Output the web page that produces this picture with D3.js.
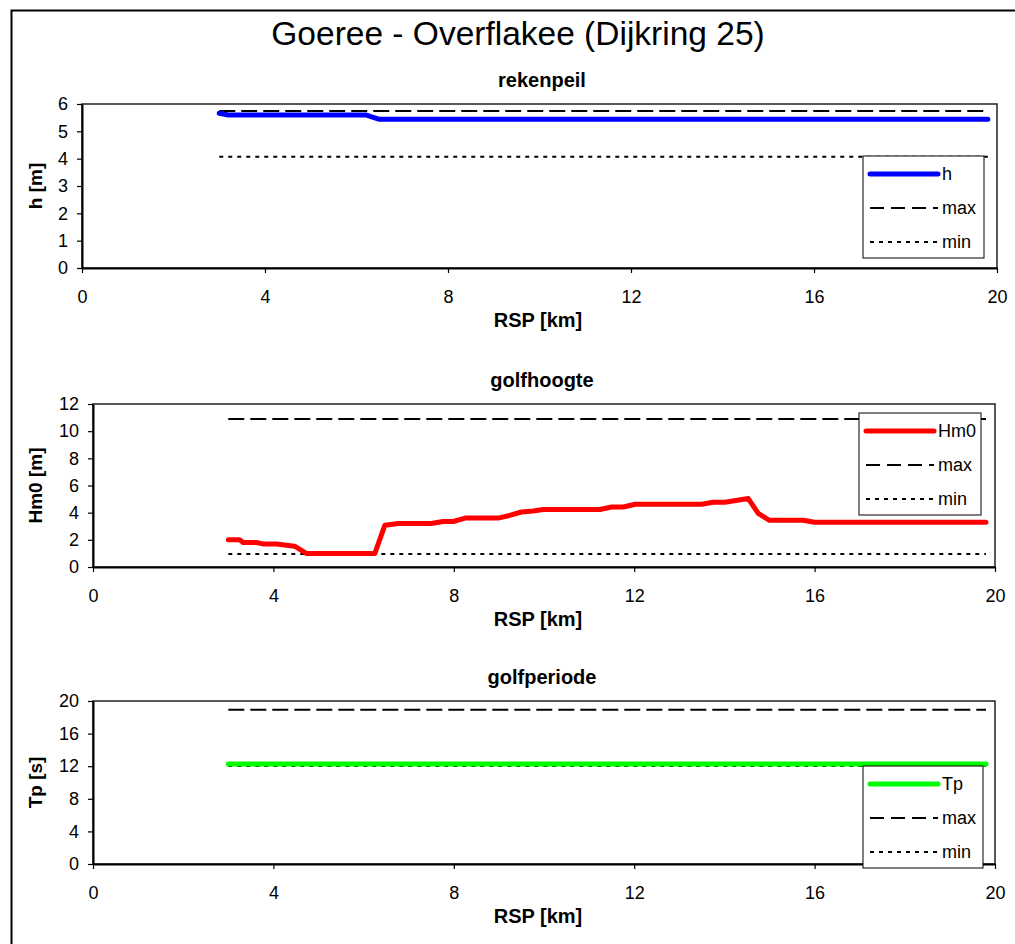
<!DOCTYPE html>
<html>
<head>
<meta charset="utf-8">
<script src="https://cdn.jsdelivr.net/npm/d3@7/dist/d3.min.js"></script>
<style>
  body { margin: 0; background: #fff; }
  svg { font-family: "Liberation Sans", Arial, sans-serif; }
</style>
</head>
<body>
<script>
// rekenpeil
var rspH = [3.0, 3.2, 6.2, 6.5, 19.8];
var hVals = [5.66, 5.6, 5.6, 5.44, 5.44];
var hMax = 5.74, hMin = 4.07;

// golfhoogte
var rspHm0 = [3.0, 3.25, 3.33, 3.62, 3.77, 4.07, 4.47, 4.73, 6.25, 6.47, 6.77, 7.5, 7.76, 7.99, 8.25, 8.98,
  9.24, 9.5, 9.76, 9.98, 11.24, 11.5, 11.76, 12.02, 13.5, 13.75, 14.01, 14.53, 14.75, 15.0, 15.75, 16.0, 19.8];
var hm0Vals = [2.0, 2.0, 1.8, 1.8, 1.7, 1.7, 1.53, 1.0, 1.0, 3.07, 3.2, 3.2, 3.35, 3.35, 3.6, 3.6,
  3.8, 4.05, 4.13, 4.23, 4.23, 4.42, 4.42, 4.62, 4.62, 4.77, 4.77, 5.04, 3.94, 3.44, 3.44, 3.3, 3.3];
var hm0Max = 10.9, hm0Min = 0.95;

// golfperiode
var rspTp = [3.0, 19.8];
var tpVals = [12.27, 12.27];
var tpMax = 18.93, tpMin = 12.02;

var xTicks = [0, 4, 8, 12, 16, 20];
var rspRange = [3.0, 19.8];

var W = 1015, H = 944;
var svg = d3.select('body').append('svg').attr('width', W).attr('height', H);

// outer frame (only left and top visible)
svg.append('path').attr('d', 'M11.5,944 L11.5,10.5 L1015,10.5')
  .attr('fill', 'none').attr('stroke', '#000').attr('stroke-width', 2);

svg.append('text').attr('x', 518).attr('y', 45).attr('text-anchor', 'middle')
  .attr('font-size', 33.5).text('Goeree - Overflakee (Dijkring 25)');

var panels = [
  { title: 'rekenpeil', ylab: 'h [m]', name: 'h', color: '#0000ff',
    xs: rspH, ys: hVals, max: hMax, min: hMin, yMax: 6, yTicks: d3.range(0, 7, 1),
    box: { l: 82, r: 997, t: 104, b: 268 }, legend: { x: 863, y: 156, w: 121, h: 102 } },
  { title: 'golfhoogte', ylab: 'Hm0 [m]', name: 'Hm0', color: '#ff0000',
    xs: rspHm0, ys: hm0Vals, max: hm0Max, min: hm0Min, yMax: 12, yTicks: d3.range(0, 13, 2),
    box: { l: 93, r: 995, t: 404, b: 567 }, legend: { x: 859, y: 413, w: 122, h: 102 } },
  { title: 'golfperiode', ylab: 'Tp [s]', name: 'Tp', color: '#00ff00',
    xs: rspTp, ys: tpVals, max: tpMax, min: tpMin, yMax: 20, yTicks: d3.range(0, 21, 4),
    box: { l: 93, r: 995, t: 701, b: 864 }, legend: { x: 863, y: 766, w: 120, h: 102 } }
];

var maxDash = '16,6';
var minDash = '4,5';

panels.forEach(function(p) {
  var b = p.box;
  var x = d3.scaleLinear().domain([0, 20]).range([b.l, b.r]);
  var y = d3.scaleLinear().domain([0, p.yMax]).range([b.b, b.t]);
  var g = svg.append('g');

  // plot frame
  g.append('rect').attr('x', b.l).attr('y', b.t).attr('width', b.r - b.l).attr('height', b.b - b.t)
    .attr('fill', 'none').attr('stroke', '#222').attr('stroke-width', 1.5);

  var xAxis = g.append('g').attr('transform', 'translate(0,' + b.b + ')')
    .call(d3.axisBottom(x).tickValues(xTicks).tickSize(5).tickSizeOuter(0).tickPadding(17));
  var yAxis = g.append('g').attr('transform', 'translate(' + b.l + ',0)')
    .call(d3.axisLeft(y).tickValues(p.yTicks).tickFormat(d3.format('d'))
      .tickSize(5).tickSizeOuter(0).tickPadding(9));
  [xAxis, yAxis].forEach(function(a) {
    a.select('.domain').attr('stroke', '#000').attr('stroke-width', 2);
    a.selectAll('.tick line').attr('stroke', '#000').attr('stroke-width', 1.2);
    a.selectAll('.tick text').attr('font-size', 18).attr('fill', '#000')
      .attr('font-family', '"Liberation Sans", Arial, sans-serif');
  });

  // titles
  g.append('text').attr('x', 542).attr('y', b.t - 17).attr('text-anchor', 'middle')
    .attr('font-size', 20).attr('font-weight', 'bold').text(p.title);
  g.append('text').attr('x', 538).attr('y', b.b + 59).attr('text-anchor', 'middle')
    .attr('font-size', 20).attr('font-weight', 'bold').text('RSP [km]');
  g.append('text').attr('transform', 'translate(42,' + ((b.t + b.b) / 2) + ') rotate(-90)')
    .attr('text-anchor', 'middle').attr('font-size', 19).attr('font-weight', 'bold').text(p.ylab);

  var line = d3.line().x(function(d) { return x(d[0]); }).y(function(d) { return y(d[1]); });

  // max / min
  g.append('path').datum(rspRange.map(function(r) { return [r, p.max]; }))
    .attr('d', line).attr('fill', 'none').attr('stroke', '#000').attr('stroke-width', 2)
    .attr('stroke-dasharray', maxDash);
  g.append('path').datum(rspRange.map(function(r) { return [r, p.min]; }))
    .attr('d', line).attr('fill', 'none').attr('stroke', '#000').attr('stroke-width', 2)
    .attr('stroke-dasharray', minDash);

  // data series
  g.append('path').datum(p.xs.map(function(v, i) { return [v, p.ys[i]]; }))
    .attr('d', line).attr('fill', 'none').attr('stroke', p.color).attr('stroke-width', 5)
    .attr('stroke-linecap', 'round').attr('stroke-linejoin', 'round');

  // legend
  var L = p.legend;
  var lg = g.append('g').attr('transform', 'translate(' + L.x + ',' + L.y + ')');
  lg.append('rect').attr('width', L.w).attr('height', L.h)
    .attr('fill', '#fff').attr('stroke', '#000').attr('stroke-width', 1);
  var items = [
    { label: p.name, color: p.color, w: 5, dash: null },
    { label: 'max', color: '#000', w: 2, dash: '14,7' },
    { label: 'min', color: '#000', w: 2, dash: minDash }
  ];
  items.forEach(function(it, i) {
    var yy = 18 + i * 34;
    lg.append('line').attr('x1', 7).attr('x2', 75).attr('y1', yy).attr('y2', yy)
      .attr('stroke', it.color).attr('stroke-width', it.w)
      .attr('stroke-linecap', it.dash ? 'butt' : 'round')
      .attr('stroke-dasharray', it.dash);
    lg.append('text').attr('x', 79).attr('y', yy + 6).attr('font-size', 18).text(it.label);
  });
});
</script>
</body>
</html>
